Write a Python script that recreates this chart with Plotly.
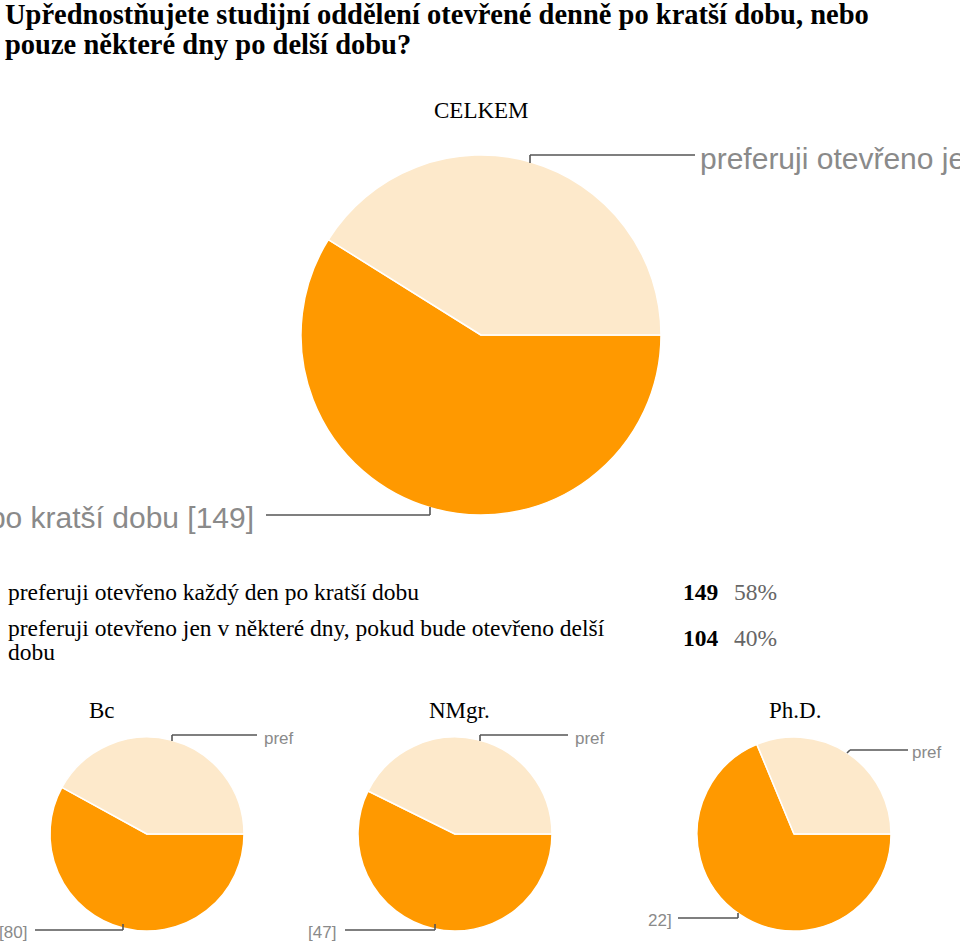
import plotly.graph_objects as go

# ---------------- data ----------------
categories = [
    "preferuji otevřeno každý den po kratší dobu",
    "preferuji otevřeno jen v některé dny, pokud bude otevřeno delší dobu",
]
celkem_values = [149, 104]
celkem_percent = ["58%", "40%"]
groups = ["Bc", "NMgr.", "Ph.D."]
bc_values = [80, 58]
nmgr_values = [47, 35]
phd_values = [22, 10]
title_lines = [
    "Upřednostňujete studijní oddělení otevřené denně po kratší dobu, nebo",
    "pouze některé dny po delší dobu?",
]
chart_title = "CELKEM"

# ---------------- styling ----------------
W, H = 960, 945
COLORS = ["#FF9900", "#FDE9CB"]
LABEL_GRAY = "#8a8a8a"
LINE_GRAY = "#555555"
SERIF = "Liberation Serif, Times New Roman, serif"
SANS = "Liberation Sans, Arial, sans-serif"


def px(x):
    return x / W


def py(y):
    return 1 - y / H


def pie(values, cx, cy, r, name):
    return go.Pie(
        values=values,
        labels=categories,
        name=name,
        sort=False,
        direction="clockwise",
        rotation=90,
        textinfo="none",
        hoverinfo="label+value+percent",
        marker=dict(colors=COLORS, line=dict(color="white", width=1.5)),
        domain=dict(x=[px(cx - r), px(cx + r)], y=[py(cy + r), py(cy - r)]),
        showlegend=False,
    )


fig = go.Figure()
fig.add_trace(pie(celkem_values, 481, 335, 180, chart_title))
fig.add_trace(pie(bc_values, 147, 834, 97, groups[0]))
fig.add_trace(pie(nmgr_values, 455, 834, 97, groups[1]))
fig.add_trace(pie(phd_values, 794, 834, 97, groups[2]))

annotations = []
shapes = []


def ann(text, x, y, size, color="black", family=SERIF, xanchor="left", yanchor="middle", align="left"):
    annotations.append(dict(
        text=text, x=px(x), y=py(y), xref="paper", yref="paper",
        xanchor=xanchor, yanchor=yanchor, align=align, showarrow=False,
        font=dict(size=size, color=color, family=family),
    ))


def polyline(points):
    for (x0, y0), (x1, y1) in zip(points[:-1], points[1:]):
        shapes.append(dict(type="line", xref="paper", yref="paper",
                           x0=px(x0), y0=py(y0), x1=px(x1), y1=py(y1),
                           line=dict(color=LINE_GRAY, width=1.6)))


# title
ann(f"<b>{title_lines[0]}</b>", 3, 14, 28.5)
ann(f"<b>{title_lines[1]}</b>", 3, 44, 28.5)
ann(chart_title, 481, 110, 23, xanchor="center")

# big chart callouts
polyline([(530, 163), (530, 155), (695, 155)])
ann(f"{categories[1]} [{celkem_values[1]}]", 698, 158, 30, LABEL_GRAY, SANS)
polyline([(266, 515), (430, 515), (430, 507)])
ann(f"{categories[0]} [{celkem_values[0]}]", 256, 517, 30, LABEL_GRAY, SANS, xanchor="right")

# legend table
ann(categories[0], 6, 592, 23.5)
ann("preferuji otevřeno jen v některé dny, pokud bude otevřeno delší", 6, 628, 23.5)
ann("dobu", 6, 652, 23.5)
for i, yy in enumerate([592, 638]):
    ann(f"<b>{celkem_values[i]}</b>", 681, yy, 23.5)
    ann(celkem_percent[i], 732, yy, 23.5, "#666666")

# small charts titles
for g, x in zip(groups, [102, 459, 795]):
    ann(g, x, 710, 23, xanchor="center")

# small chart callouts (labels are cut by each chart's box in the original)
polyline([(172, 741), (172, 735), (257, 735)])
ann(categories[1][:4], 262, 738, 17, LABEL_GRAY, SANS)
polyline([(35, 930), (123, 930), (123, 924)])
ann(f"[{bc_values[0]}]"[-4:], 29, 932, 17, LABEL_GRAY, SANS, xanchor="right")

polyline([(480, 741), (480, 735), (568, 735)])
ann(categories[1][:4], 573, 738, 17, LABEL_GRAY, SANS)
polyline([(345, 930), (435, 930), (435, 924)])
ann(f"[{nmgr_values[0]}]"[-4:], 338, 932, 17, LABEL_GRAY, SANS, xanchor="right")

polyline([(847, 753), (850, 750), (908, 750)])
ann(categories[1][:4], 910, 752, 17, LABEL_GRAY, SANS)
polyline([(678, 918), (738, 918), (738, 913)])
ann(f"[{phd_values[0]}]"[-3:], 674, 920, 17, LABEL_GRAY, SANS, xanchor="right")

fig.update_layout(
    width=W, height=H,
    margin=dict(l=0, r=0, t=0, b=0),
    paper_bgcolor="white", plot_bgcolor="white",
    annotations=annotations, shapes=shapes,
)
fig.write_html("out.html", config={"displayModeBar": False},
               post_script="document.body.style.margin='0';")
